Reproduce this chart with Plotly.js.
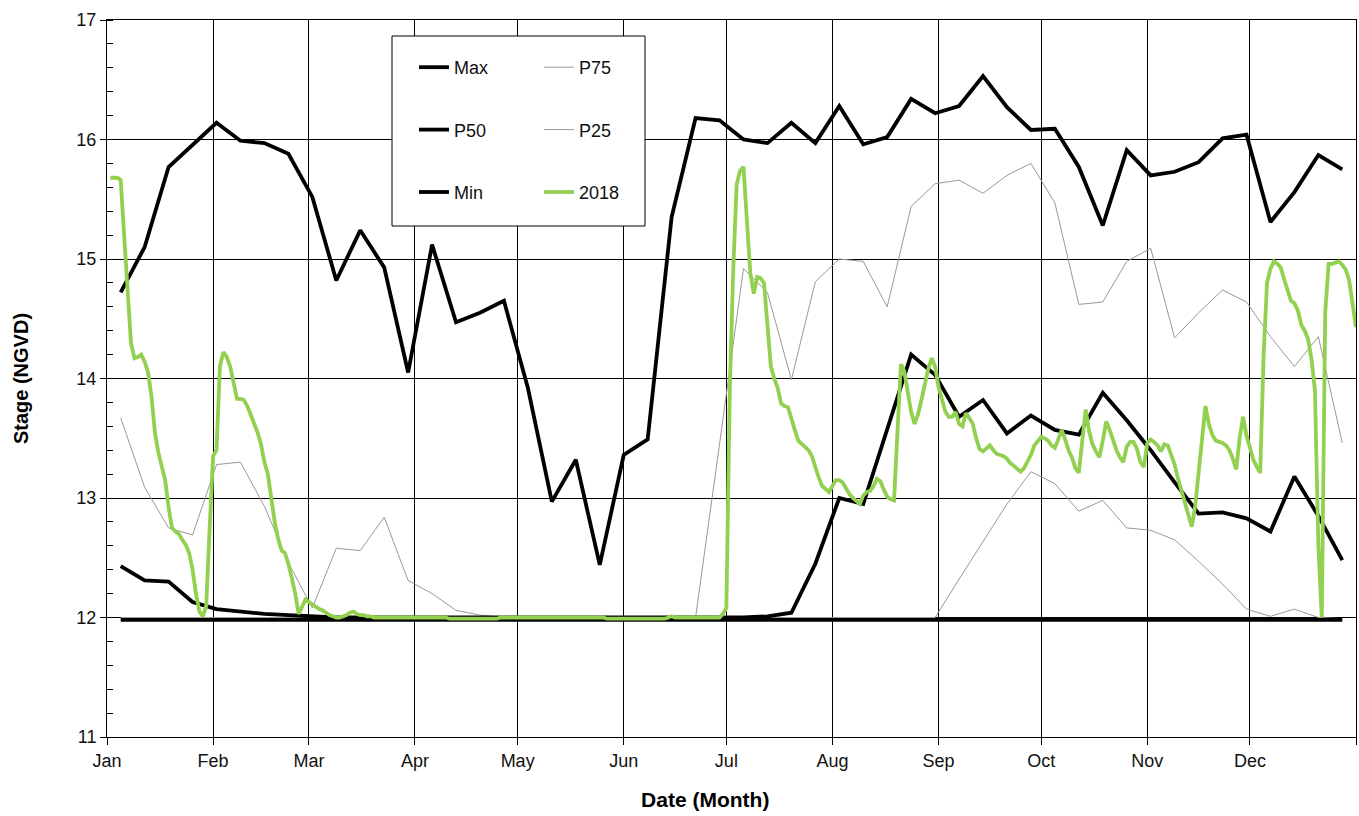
<!DOCTYPE html>
<html>
<head>
<meta charset="utf-8">
<script src="https://cdn.plot.ly/plotly-3.0.1.min.js"></script>
<style>html,body{margin:0;padding:0;background:#fff;}#chart{width:1359px;height:816px;}</style>
</head>
<body>
<div id="chart"></div>
<script>
// ---- Data ----
const monthTicks = ['2018-01-01','2018-02-01','2018-03-01','2018-04-01','2018-05-01','2018-06-01',
  '2018-07-01','2018-08-01','2018-09-01','2018-10-01','2018-11-01','2018-12-01','2019-01-01'];
const monthLabels = ['Jan','Feb','Mar','Apr','May','Jun','Jul','Aug','Sep','Oct','Nov','Dec',''];

const weekStart = '2018-01-05';   // weekly statistics, one value every 7 days
const dayStart = '2018-01-02';    // 2018 daily record

const maxStage = [14.72,15.10,15.77,15.95,16.14,15.99,15.97,15.88,15.52,14.82,
  15.24,14.93,14.05,15.12,14.47,14.55,14.65,13.92,12.97,13.32,
  12.44,13.36,13.49,15.35,16.18,16.16,16.00,15.97,16.14,15.97,
  16.28,15.96,16.02,16.34,16.22,16.28,16.53,16.27,16.08,16.09,
  15.77,15.28,15.91,15.70,15.73,15.81,16.01,16.04,15.31,15.56,
  15.87,15.75];

const p50Stage = [12.43,12.31,12.30,12.13,12.07,12.05,12.03,12.02,12.01,12.00,
  12.00,12.00,12.00,12.00,12.00,12.00,12.00,12.00,12.00,12.00,
  12.00,12.00,12.00,12.00,12.00,12.00,12.00,12.01,12.04,12.45,
  13.00,12.95,13.58,14.20,14.03,13.68,13.82,13.54,13.69,13.57,
  13.53,13.88,13.65,13.40,13.13,12.87,12.88,12.83,12.72,13.18,
  12.85,12.48];

const minStage = [11.98,11.98,11.98,11.98,11.98,11.98,11.98,11.98,11.98,11.98,
  11.98,11.98,11.98,11.98,11.98,11.98,11.98,11.98,11.98,11.98,
  11.98,11.98,11.98,11.98,11.98,11.98,11.98,11.98,11.98,11.98,
  11.98,11.98,11.98,11.98,11.98,11.98,11.98,11.98,11.98,11.98,
  11.98,11.98,11.98,11.98,11.98,11.98,11.98,11.98,11.98,11.98,
  11.98,11.98];

const p75Stage = [13.67,13.09,12.75,12.69,13.28,13.30,12.93,12.46,12.08,12.58,
  12.56,12.84,12.31,12.20,12.06,12.02,12.00,12.00,12.00,12.00,
  12.00,12.00,12.00,12.00,12.00,13.45,14.92,14.72,13.99,14.81,
  15.00,14.98,14.60,15.44,15.63,15.66,15.55,15.70,15.80,15.47,
  14.62,14.64,14.98,15.09,14.34,14.55,14.74,14.64,14.35,14.10,
  14.35,13.46];

const p25Stage = [12.00,12.00,12.00,12.00,12.00,12.00,12.00,12.00,12.00,12.00,
  12.00,12.00,12.00,12.00,12.00,12.00,12.00,12.00,12.00,12.00,
  12.00,12.00,12.00,12.00,12.00,12.00,12.00,12.00,12.00,12.00,
  12.00,12.00,12.00,12.00,12.00,12.32,12.64,12.95,13.22,13.12,
  12.89,12.98,12.75,12.73,12.65,12.47,12.28,12.07,12.01,12.07,
  12.00,11.99];

const stage2018 = [
  // Jan 2 - Mar 19
  15.68,15.68,15.68,15.66,15.25,14.75,14.30,14.17,14.18,14.20,
  14.14,14.05,13.85,13.55,13.38,13.27,13.15,12.92,12.75,12.72,
  12.70,12.65,12.61,12.54,12.40,12.20,12.05,12.01,12.10,12.75,
  13.35,13.40,14.10,14.22,14.18,14.10,13.95,13.83,13.83,13.82,
  13.77,13.70,13.63,13.55,13.45,13.30,13.20,13.00,12.80,12.66,
  12.56,12.54,12.45,12.33,12.20,12.03,12.09,12.15,12.13,12.11,
  12.09,12.07,12.06,12.04,12.02,12.01,12.00,12.00,12.01,12.02,
  12.04,12.05,12.03,12.02,12.02,12.01,12.01,
  // Mar 20 - Jun 28
  12.00,12.00,12.00,12.00,12.00,12.00,12.00,12.00,12.00,12.00,
  12.00,12.00,12.00,12.00,12.00,12.00,12.00,12.00,12.00,12.00,
  12.00,12.00,11.99,11.99,11.99,11.99,11.99,11.99,11.99,11.99,
  11.99,11.99,11.99,11.99,11.99,11.99,11.99,12.00,12.00,12.00,
  12.00,12.00,12.00,12.00,12.00,12.00,12.00,12.00,12.00,12.00,
  12.00,12.00,12.00,12.00,12.00,12.00,12.00,12.00,12.00,12.00,
  12.00,12.00,12.00,12.00,12.00,12.00,12.00,12.00,11.99,11.99,
  11.99,11.99,11.99,11.99,11.99,11.99,11.99,11.99,11.99,11.99,
  11.99,11.99,11.99,11.99,11.99,11.99,12.00,12.01,12.00,12.00,
  12.00,12.00,12.00,12.00,12.00,12.00,12.00,12.00,12.00,12.00,
  12.00,12.00,
  // Jun 29 - Sep 30
  12.03,12.08,13.90,14.90,15.62,15.74,15.77,15.30,14.88,14.71,
  14.85,14.84,14.80,14.45,14.10,14.00,13.92,13.79,13.77,13.76,
  13.65,13.57,13.48,13.45,13.43,13.40,13.35,13.25,13.17,13.10,
  13.07,13.05,13.10,13.15,13.15,13.13,13.08,13.03,13.00,12.97,
  12.95,13.02,13.05,13.06,13.10,13.16,13.14,13.07,13.01,12.99,
  12.98,13.55,14.12,14.06,13.90,13.72,13.62,13.70,13.82,13.97,
  14.08,14.17,14.10,13.93,13.82,13.72,13.68,13.68,13.72,13.62,
  13.60,13.71,13.67,13.62,13.50,13.41,13.39,13.42,13.44,13.40,
  13.37,13.36,13.35,13.33,13.29,13.27,13.24,13.22,13.25,13.30,
  // Oct 1 - Jan 1
  13.36,13.44,13.48,13.51,13.50,13.48,13.44,13.42,13.49,13.57,
  13.49,13.40,13.34,13.25,13.21,13.45,13.74,13.56,13.45,13.39,
  13.34,13.48,13.64,13.57,13.48,13.40,13.34,13.30,13.43,13.47,
  13.47,13.41,13.30,13.26,13.46,13.49,13.47,13.44,13.39,13.45,
  13.44,13.35,13.28,13.16,13.06,12.97,12.85,12.76,12.93,13.22,
  13.49,13.77,13.62,13.53,13.48,13.47,13.46,13.44,13.40,13.33,
  13.24,13.50,13.68,13.52,13.42,13.32,13.26,13.21,14.20,14.80,
  14.92,14.98,14.96,14.93,14.83,14.73,14.65,14.63,14.57,14.45,
  14.40,14.33,14.16,13.90,12.60,12.00,14.55,14.96,14.96,14.97,
  14.98,14.95,14.91,14.82,14.62,14.43
];

// ---- Helpers ----
function addDays(iso, n) {
  const d = new Date(iso + 'T00:00:00Z');
  d.setUTCDate(d.getUTCDate() + n);
  return d.toISOString().slice(0, 10);
}
const weekDates = maxStage.map((_, i) => addDays(weekStart, 7 * i));
const dayDates = stage2018.map((_, i) => addDays(dayStart, i));

const FONT = 'Liberation Sans, Arial, Helvetica, sans-serif';
const BLACK_W = 3.8;

function weekly(name, y, color, width, legend, rank) {
  return {
    type: 'scatter', mode: 'lines', name: name, x: weekDates, y: y,
    line: {color: color, width: width},
    legend: legend, legendgroup: name, legendrank: rank,
    hoverinfo: 'x+y+name'
  };
}

const traces = [
  weekly('P75', p75Stage, '#999999', 1, 'legend2', 1),
  weekly('P25', p25Stage, '#999999', 1, 'legend2', 2),
  weekly('Min', minStage, '#000000', BLACK_W, 'legend', 3),
  weekly('P50', p50Stage, '#000000', BLACK_W, 'legend', 2),
  weekly('Max', maxStage, '#000000', BLACK_W, 'legend', 1),
  {
    type: 'scatter', mode: 'lines', name: '2018', x: dayDates, y: stage2018,
    line: {color: '#92D050', width: 3.8},
    legend: 'legend2', legendgroup: '2018', legendrank: 3
  }
];

const W = 1359, H = 816;
const M = {l: 107, r: 3, t: 20, b: 79};
const PW = W - M.l - M.r, PH = H - M.t - M.b;
const px2x = p => (p - M.l) / PW;
const px2y = p => (H - M.b - p) / PH;

const legendCommon = {
  bgcolor: 'rgba(0,0,0,0)', borderwidth: 0,
  font: {family: FONT, size: 18, color: '#111'},
  tracegroupgap: 36, traceorder: 'grouped',
  xanchor: 'left', yanchor: 'top', orientation: 'v'
};

const layout = {
  width: W, height: H,
  margin: M,
  paper_bgcolor: '#ffffff', plot_bgcolor: '#ffffff',
  font: {family: FONT, size: 18, color: '#111'},
  showlegend: true,
  legend: Object.assign({}, legendCommon, {x: px2x(414), y: px2y(49)}),
  legend2: Object.assign({}, legendCommon, {x: px2x(539), y: px2y(49)}),
  xaxis: {
    type: 'date', range: ['2018-01-01', '2019-01-01'],
    tickmode: 'array', tickvals: monthTicks, ticktext: monthLabels,
    ticks: 'outside', ticklen: 7, tickwidth: 1, tickcolor: '#000',
    showgrid: true, gridcolor: '#000', gridwidth: 1,
    showline: true, linecolor: '#000', linewidth: 1, mirror: true,
    zeroline: false, automargin: false,
    tickfont: {family: FONT, size: 18, color: '#111'},
    title: {text: 'Date (Month)' + '\u00a0'.repeat(9) + '\u200b', standoff: 22,
      font: {family: FONT, size: 21, color: '#000', weight: 'bold'}}
  },
  yaxis: {
    range: [11, 17], dtick: 1, tick0: 11,
    ticks: 'outside', ticklen: 6, tickwidth: 1, tickcolor: '#000',
    showgrid: true, gridcolor: '#000', gridwidth: 1,
    showline: true, linecolor: '#000', linewidth: 1, mirror: true,
    zeroline: false, automargin: false,
    minor: {dtick: 0.2, ticks: 'inside', ticklen: 6, tickcolor: '#000', showgrid: false},
    tickfont: {family: FONT, size: 18, color: '#111'},
    title: {text: 'Stage (NGVD)', standoff: 42,
      font: {family: FONT, size: 20, color: '#000', weight: 'bold'}}
  },
  shapes: [{
    type: 'rect', xref: 'paper', yref: 'paper', layer: 'above',
    x0: px2x(392), x1: px2x(645), y0: px2y(226), y1: px2y(36),
    fillcolor: '#ffffff', line: {color: '#000', width: 1}
  }]
};

Plotly.newPlot('chart', traces, layout, {displayModeBar: false, responsive: false});
</script>
</body>
</html>
